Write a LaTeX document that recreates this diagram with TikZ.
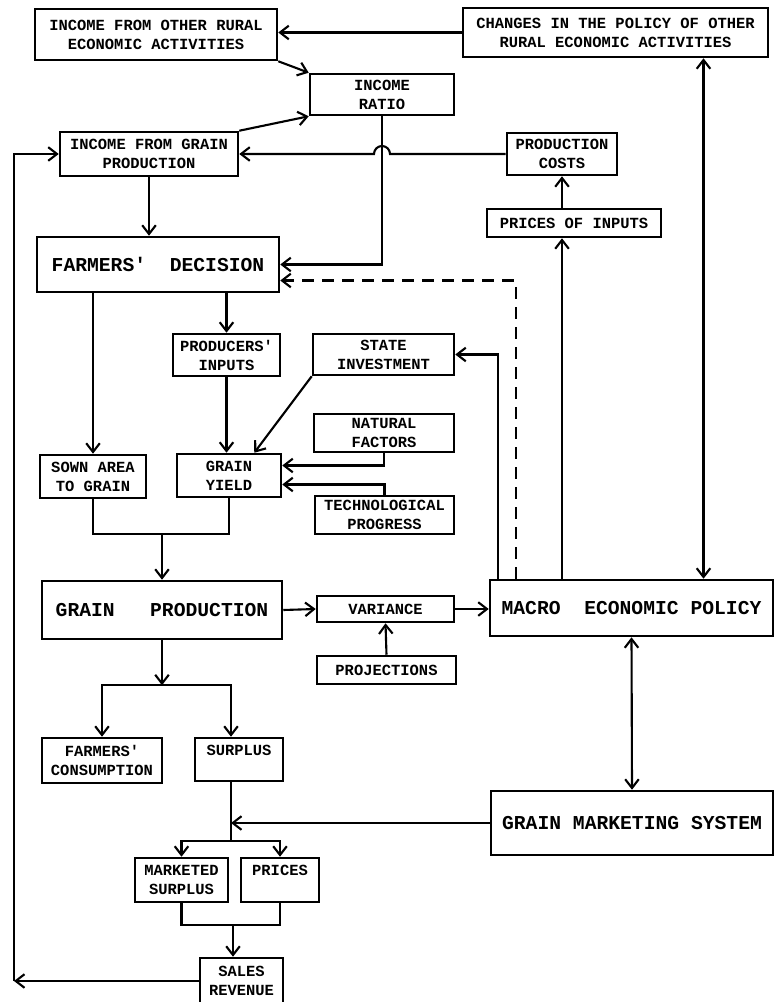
\documentclass[tikz,border=0pt]{standalone}
\usepackage{fontspec}
\setmonofont{Liberation Mono}
\usetikzlibrary{arrows.meta}

\begin{document}
\begin{tikzpicture}[x=0.25mm, y=-0.25mm,
    >={Straight Barb[length=2.2mm,width=3.4mm]},
    block/.style 2 args={draw, line width=1.8pt, inner sep=1pt, align=center,
        minimum width=#1mm, minimum height=#2mm,
        font=\ttfamily\bfseries\fontsize{11}{13.5}\selectfont},
    bigblock/.style 2 args={block={#1}{#2}, font=\ttfamily\bfseries\fontsize{14}{16}\selectfont},
    link/.style={line width=1.5pt}]
                \useasboundingbox (0,0) rectangle (774,1002);

                %Nodes
                \node[block={60.5}{12.75}]  at (156,34.5)  (IOR)   {INCOME FROM OTHER RURAL\\ECONOMIC ACTIVITIES};
                \node[block={76.25}{12.25}] at (615.5,32.5)(CPO)   {CHANGES IN THE POLICY OF OTHER\\RURAL ECONOMIC ACTIVITIES};
                \node[block={36}{10.25}]    at (382,94.5)  (RATIO) {INCOME\\RATIO};
                \node[block={44.5}{11}]     at (149,154)   (IGP)   {INCOME FROM GRAIN\\PRODUCTION};
                \node[block={27.5}{10.5}]   at (562,154)   (PC)    {PRODUCTION\\COSTS};
                \node[block={43.5}{7}]      at (574,223)   (PI)    {PRICES OF INPUTS};
                \node[bigblock={60.5}{13.75}] at (158,264.5) (FD)  {FARMERS'~~DECISION};
                \node[block={26.75}{10.5}]  at (226.5,355) (PRI)   {PRODUCERS'\\INPUTS};
                \node[block={35.25}{10.25}] at (383.5,354.5)(SI)   {STATE\\INVESTMENT};
                \node[block={35}{9.5}]      at (384,433)   (NF)    {NATURAL\\FACTORS};
                \node[block={26.5}{10.75}]  at (93,476.5)  (SA)    {SOWN AREA\\TO GRAIN};
                \node[block={26}{10.75}]    at (229,475.5) (GY)    {GRAIN\\YIELD};
                \node[block={34.75}{9.5}]   at (384.5,515) (TP)    {TECHNOLOGICAL\\PROGRESS};
                \node[bigblock={60}{14.5}]  at (162,610)   (GP)    {GRAIN~~~PRODUCTION};
                \node[block={34.25}{6.5}]   at (385.5,609) (VAR)   {VARIANCE};
                \node[bigblock={70.75}{14}] at (631.5,608) (MEP)   {MACRO~~ECONOMIC POLICY};
                \node[block={34.75}{7}]     at (386.5,670) (PROJ)  {PROJECTIONS};
                \node[block={30}{11.25}]    at (102,760.5) (FC)    {FARMERS'\\CONSUMPTION};
                \node[block={22}{10.75}]    at (239,759.5) (SUR)   {SURPLUS\\\mbox{}};
                \node[bigblock={70.5}{16}]  at (632,823)   (GMS)   {GRAIN MARKETING SYSTEM};
                \node[block={23.25}{11}]    at (181.5,880) (MS)    {MARKETED\\SURPLUS};
                \node[block={19.5}{11}]     at (280,880)   (PR)    {PRICES\\\mbox{}};
                \node[block={20.75}{11.5}]  at (241.5,981) (SR)    {SALES\\REVENUE};

                %Points
                \coordinate (hop)    at (RATIO.south |- PC.west);
                \coordinate (cpox)   at ([xshift=22mm]CPO.south);
                \coordinate (sdrop)  at ([xshift=-2mm]SUR.south);
                \coordinate (loop)   at (14,980);
                \coordinate (yjoin)  at ([yshift=11.5mm]GP.north);
                \coordinate (gsplit) at ([yshift=-11.25mm]GP.south);
                \coordinate (ssplit) at ([yshift=-14.75mm]sdrop);
                \coordinate (mjoin)  at (233,925);

                %Lines
                \draw[link,->] (CPO.west) -- (CPO.west -| IOR.east);
                \draw[link,->] (IOR.south east) -- (RATIO.north west);
                \draw[link,->] (IGP.north east) -- (RATIO.south west);
                \draw[link,->] (PC.west) -- ([xshift=2mm]hop) arc[start angle=0, end angle=180, radius=2mm] -- (IGP.east);
                \draw[link,->] (RATIO.south) |- (FD.east);
                \draw[link,->] (IGP.south) -- (IGP.south |- FD.north);
                \draw[link,->] (MEP.north -| PC.south) -- (PI.south -| PC.south);
                \draw[link,->] (PI.north -| PC.south) -- (PC.south);
                \draw[link,<->] (cpox) -- (cpox |- MEP.north);
                \draw[link,->] ([xshift=2.25mm]MEP.north west) |- (SI.east);
                \draw[link,->,dash pattern=on 3mm off 2mm] ([xshift=6.75mm]MEP.north west) |- ([yshift=-4mm]FD.east);
                \draw[link,->] (FD.south -| SA.north) -- (SA.north);
                \draw[link,->] (FD.south -| PRI.north) -- (PRI.north);
                \draw[link,->] (PRI.south) -- (PRI.south |- GY.north);
                \draw[link,->] (SI.south west) -- ([xshift=-7mm]GY.north east);
                \draw[link,->] (NF.south) |- ([yshift=2.5mm]GY.east);
                \draw[link,->] (TP.north) |- ([yshift=-2.25mm]GY.east);
                \draw[link] (SA.south) |- (yjoin);
                \draw[link] (GY.south) |- (yjoin);
                \draw[link,->] (yjoin) -- (GP.north);
                \draw[link,->] (GP.east) -- (VAR.west);
                \draw[link,->] (VAR.east) -- (VAR.east -| MEP.west);
                \draw[link,->] (PROJ.north) -- (VAR.south);
                \draw[link,<->] (MEP.south) -- (GMS.north);
                \draw[link,->] (GP.south) -- (gsplit);
                \draw[link,->] (gsplit) -| (FC.north);
                \draw[link,->] (gsplit) -| (sdrop |- SUR.north);
                \draw[link] (sdrop) -- (ssplit);
                \draw[link,->] (GMS.west) -- (GMS.west -| sdrop);
                \draw[link,->] (ssplit) -| (MS.north);
                \draw[link,->] (ssplit) -| (PR.north);
                \draw[link] (MS.south) |- (mjoin);
                \draw[link] (PR.south) |- (mjoin);
                \draw[link,->] (mjoin) -- (mjoin |- SR.north);
                \draw[link,->] (SR.west) -- (SR.west -| loop);
                \draw[link,->] (SR.west -| loop) |- (IGP.west);
            \end{tikzpicture}
\end{document}
